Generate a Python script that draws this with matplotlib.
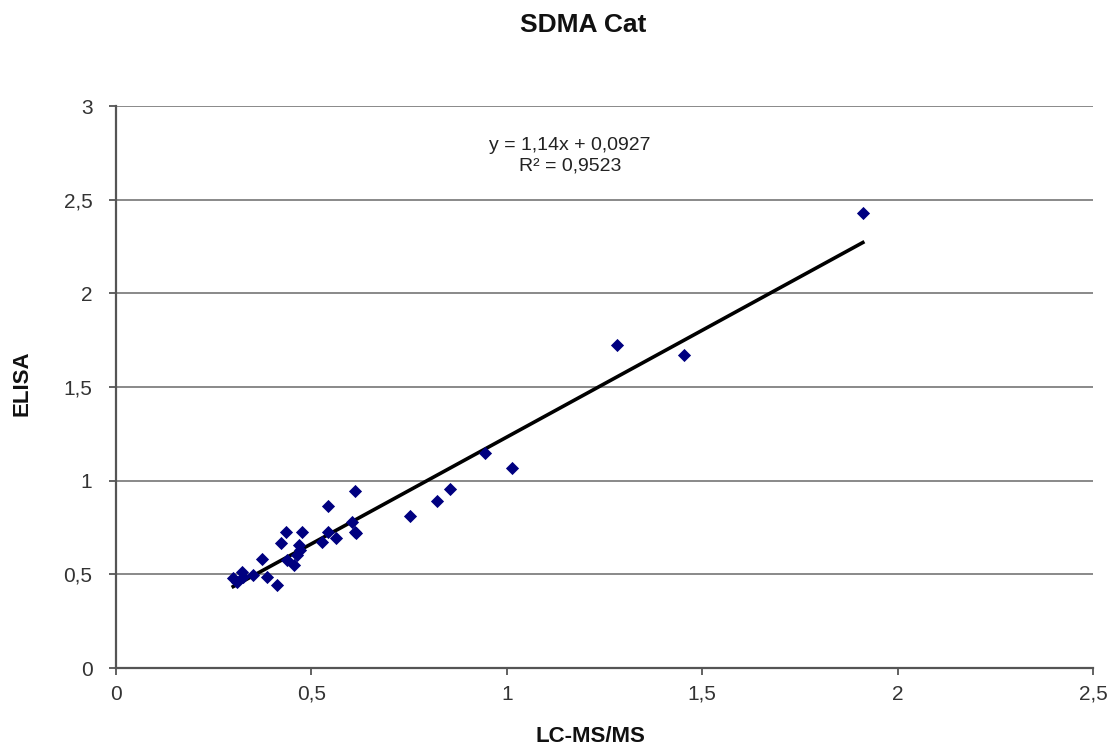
import matplotlib
matplotlib.use("Agg")
import matplotlib.pyplot as plt
from matplotlib.ticker import FuncFormatter
import numpy as np

plt.rcParams['font.family'] = ['Liberation Sans', 'DejaVu Sans']

lcms = [0.611, 0.543, 0.855, 0.822, 0.752, 0.603, 0.611, 0.615, 0.543, 0.563,
        0.526, 0.435, 0.475, 0.421, 0.467, 0.471, 0.462, 0.437, 0.455, 0.373,
        0.386, 0.413, 0.351, 0.322, 0.300, 0.309, 0.326, 0.944, 1.013, 1.282,
        1.453, 1.911]
elisa = [0.947, 0.867, 0.954, 0.893, 0.813, 0.781, 0.728, 0.720, 0.728, 0.692,
         0.674, 0.728, 0.728, 0.669, 0.657, 0.630, 0.603, 0.577, 0.550, 0.580,
         0.488, 0.443, 0.497, 0.514, 0.479, 0.461, 0.487, 1.150, 1.066, 1.725,
         1.671, 2.429]
slope, intercept = 1.14, 0.0927
r2 = 0.9523
x_ticks = [0, 0.5, 1, 1.5, 2, 2.5]
y_ticks = [0, 0.5, 1, 1.5, 2, 2.5, 3]

W, H = 1114, 751
fig = plt.figure(figsize=(W / 100, H / 100), dpi=100)
ax = fig.add_axes([116 / W, 1 - 668 / H, (1093 - 116) / W, (668 - 106) / H])

ax.set_xlim(0, 2.5)
ax.set_ylim(0, 3)
ax.set_xticks(x_ticks)
ax.set_yticks(y_ticks)
fmt = FuncFormatter(lambda v, p: (f"{v:g}").replace('.', ','))
ax.xaxis.set_major_formatter(fmt)
ax.yaxis.set_major_formatter(fmt)

ax.grid(axis='y', color='#808080', linewidth=1.3)
ax.set_axisbelow(True)
for s in ['top', 'right']:
    ax.spines[s].set_visible(False)
for s in ['left', 'bottom']:
    ax.spines[s].set_color('#555555')
    ax.spines[s].set_linewidth(1.6)
ax.tick_params(direction='out', length=5, width=1.3, color='#555555',
               labelsize=15, labelcolor='#333333')
ax.tick_params(axis='y', pad=12)
ax.tick_params(axis='x', pad=7)

xs = np.array([min(lcms), max(lcms)])
ax.plot(xs, slope * xs + intercept, color='black', linewidth=2.6, zorder=2)
ax.scatter(lcms, elisa, marker='D', s=45, color='#000080', zorder=3, linewidths=0)

ax.text((570 - 116) / (1093 - 116), (668 - 145) / 562,
        f"y = {slope:g}x + {intercept:g}".replace('.', ','),
        transform=ax.transAxes, ha='center', va='center', fontsize=14,
        color='#222222')
ax.text((570 - 116) / (1093 - 116), (668 - 166) / 562,
        f"R² = {r2:g}".replace('.', ','),
        transform=ax.transAxes, ha='center', va='center', fontsize=14,
        color='#222222')

fig.text(583 / W, 1 - 25 / H, "SDMA Cat", ha='center', va='center',
         fontsize=19, fontweight='bold', color='#111111')
fig.text(590 / W, 1 - 736 / H, "LC-MS/MS", ha='center', va='center',
         fontsize=16, fontweight='bold', color='#111111')
fig.text(22 / W, 1 - 383 / H, "ELISA", ha='center', va='center',
         rotation=90, fontsize=16, fontweight='bold', color='#111111')

fig.savefig("out.png", dpi=100)
